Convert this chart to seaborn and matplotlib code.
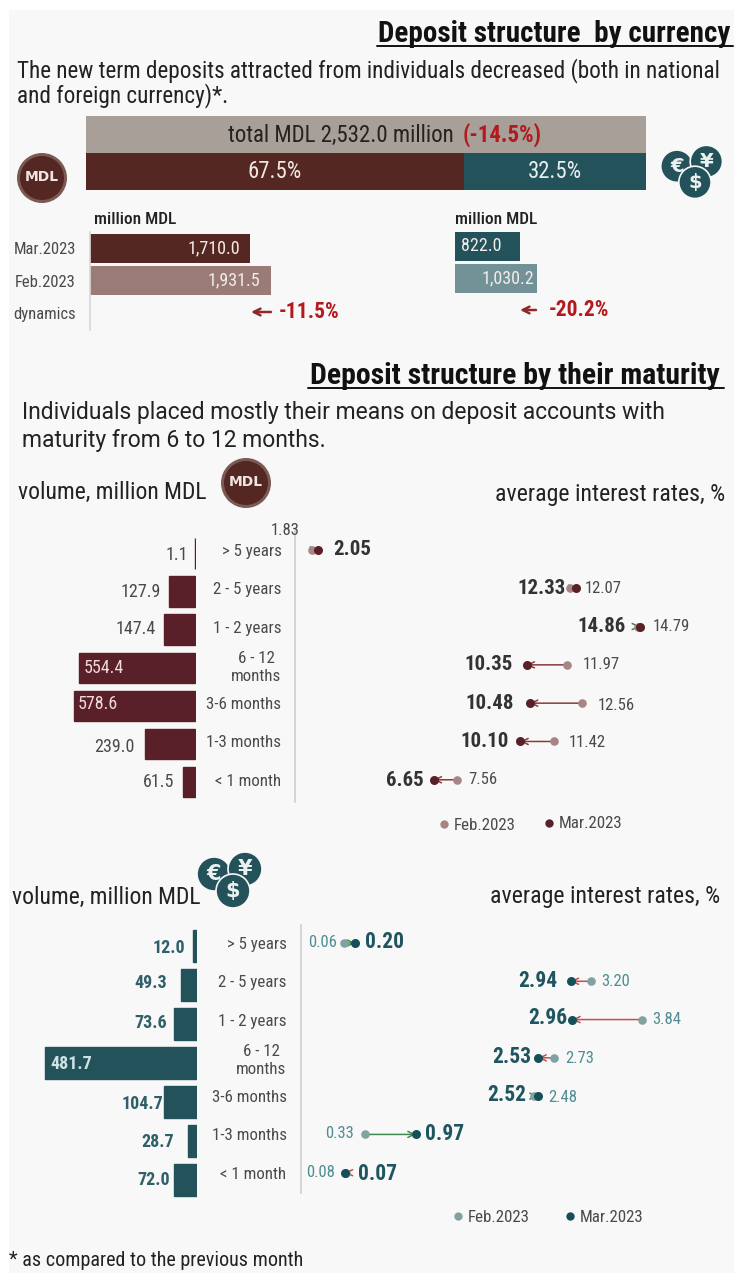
import pandas as pd
import matplotlib
matplotlib.use('Agg')
import matplotlib.pyplot as plt
from matplotlib.patches import Circle, Rectangle
import seaborn as sns

W, H = 734, 1277
PT = 0.72  # one pixel in points at dpi 100

# Data
total_label = 'total MDL 2,532.0 million'
total_change = '(-14.5%)'
share_mdl = 67.5
share_fx = 32.5

months = ['Mar.2023', 'Feb.2023', 'dynamics']
volume_mdl_top = [1710.0, 1931.5, None]
volume_fx_top = [822.0, 1030.2, None]
change_mdl = '-11.5%'
change_fx = '-20.2%'

maturities = ['> 5 years', '2 - 5 years', '1 - 2 years', '6 - 12\nmonths',
              '3-6 months', '1-3 months', '< 1 month']
volume_mdl = [1.1, 127.9, 147.4, 554.4, 578.6, 239.0, 61.5]
rate_mar_mdl = [2.05, 12.33, 14.86, 10.35, 10.48, 10.10, 6.65]
rate_feb_mdl = [1.83, 12.07, 14.79, 11.97, 12.56, 11.42, 7.56]
volume_fx = [12.0, 49.3, 73.6, 481.7, 104.7, 28.7, 72.0]
rate_mar_fx = [0.20, 2.94, 2.96, 2.53, 2.52, 0.97, 0.07]
rate_feb_fx = [0.06, 3.20, 3.84, 2.73, 2.48, 0.33, 0.08]

# Colours
BROWN = '#552722'
WINE = '#5A2029'
TEAL = '#23525A'
GREY_BAR = '#A89F98'
BROWN_LIGHT = '#9A7B76'
TEAL_LIGHT = '#729298'
RED = '#B21A1E'
TXT = '#222222'
TXT2 = '#4A4A4A'
TEAL_TXT = '#4F8C94'

sns.set_theme(style='white')
plt.rcParams['font.family'] = ['Roboto Condensed', 'DejaVu Sans']

fig = plt.figure(figsize=(W / 100, H / 100), dpi=100, facecolor='white')


def px_axes(left, top, right, bottom):
    ax = fig.add_axes([left / W, 1 - bottom / H, (right - left) / W, (bottom - top) / H])
    ax.patch.set_visible(False)
    return ax


# Page layers in pixel coordinates, one under the charts and one over them
bg = px_axes(0, 0, W, H)
bg.set_xlim(0, W)
bg.set_ylim(H, 0)
bg.axis('off')
bg.add_patch(Rectangle((9, 10), W - 9, 1263, color='#F8F8F8', lw=0))
fg = px_axes(0, 0, W, H)
fg.set_xlim(0, W)
fg.set_ylim(H, 0)
fg.axis('off')
fg.set_zorder(10)


def label(x, y, s, size, color=TXT, ha='left', weight='normal', family=None):
    return fg.text(x, y, s, fontsize=size, color=color, ha=ha, va='center', fontweight=weight, family=family)


def mdl_icon(x, y):
    bg.add_patch(Circle((x, y), 25, fc='#7A5A54', ec='none', zorder=3))
    bg.add_patch(Circle((x, y), 22, fc=BROWN, ec='none', zorder=3))
    bg.text(x, y - 1, 'MDL', fontsize=10, color='#EDE5E2', ha='center', va='center',
            fontweight='bold', family='DejaVu Sans', zorder=4)


def fx_icon(x, y, scale=1.0):
    coins = [('€', -18, -4), ('¥', 13, -9), ('$', 1, 13)]
    for i, (sign, dx, dy) in enumerate(coins):
        bg.add_patch(Circle((x + dx * scale, y + dy * scale), 17 * scale, fc=TEAL, ec='#F8F8F8',
                            lw=1.2, zorder=3 + i))
        bg.text(x + dx * scale, y + dy * scale, sign, fontsize=15 * scale, color='#EAF0F0',
                ha='center', va='center', fontweight='bold', family='DejaVu Sans', zorder=3 + i)


# Headings
label(730, 34, 'Deposit structure  by currency', 21, ha='right', weight='bold', color='#111111')
fg.plot([377, 733], [46, 46], color='#111111', lw=1.4)
label(17, 71, 'The new term deposits attracted from individuals decreased (both in national', 16.7)
label(17, 96, 'and foreign currency)*.', 16.7)
label(720, 376, 'Deposit structure by their maturity', 21.4, ha='right', weight='bold', color='#111111')
fg.plot([308, 724], [388, 388], color='#111111', lw=1.4)
label(22, 413, 'Individuals placed mostly their means on deposit accounts with', 16.5, family='Roboto')
label(22, 440, 'maturity from 6 to 12 months.', 16.5, family='Roboto')

mdl_icon(42, 178)
fx_icon(694, 170, 0.95)
mdl_icon(246, 483)
fx_icon(232, 878)

label(18, 492, 'volume, million MDL', 17)
label(725, 495, 'average interest rates, %', 17.2, ha='right')
label(12, 897, 'volume, million MDL', 17)
label(720, 896, 'average interest rates, %', 17.2, ha='right')
label(9, 1260, '* as compared to the previous month', 14.5)

# Total bar
ax = px_axes(86, 116, 646, 190)
share_df = pd.DataFrame({'row': ['total', 'split'], 'value': [share_mdl + share_fx, share_mdl + share_fx]})
sns.barplot(data=share_df, y='row', x='value', hue='row', palette=[GREY_BAR, TEAL], legend=False,
            width=1, saturation=1, linewidth=0, ax=ax)
sns.barplot(y=['split'], x=[share_mdl], color=BROWN, width=1, saturation=1, linewidth=0, ax=ax)
ax.set_xlim(0, share_mdl + share_fx)
ax.set_ylim(1.5, -0.5)
ax.axis('off')
ax.text(share_mdl / 2, 1, f'{share_mdl}%', color='#EFE7E4', fontsize=16.4, ha='center', va='center')
ax.text(share_mdl + share_fx / 2, 1, f'{share_fx}%', color='#E6EEEE', fontsize=16.4, ha='center', va='center')
label(228, 135, total_label, 16.5)
label(463, 135, total_change, 16.5, color=RED, weight='bold')


# Monthly volume bars
def month_bars(values, box, colors, xmax, text_offsets, spine):
    ax = px_axes(*box)
    df = pd.DataFrame({'month': months, 'value': values})
    sns.barplot(data=df, y='month', x='value', hue='month', palette=colors, legend=False,
                width=0.89, saturation=1, linewidth=0, ax=ax)
    ax.set_xlim(0, xmax)
    ax.set_ylim(2.5, -0.5)
    ax.set_xlabel('')
    ax.set_ylabel('')
    ax.set_xticks([])
    ax.tick_params(axis='y', length=0, pad=14 * PT, labelsize=12, labelcolor=TXT2)
    sns.despine(ax=ax, top=True, right=True, bottom=True, left=not spine)
    ax.spines['left'].set_color('#D8D8D8')
    for i, v in enumerate(values[:2]):
        dx, ha = text_offsets[i]
        ax.annotate(f'{v:,.1f}', (v, i), xytext=(dx * PT, 0), textcoords='offset points',
                    color='#F2ECEA', fontsize=13, ha=ha, va='center')
    return ax


ax = month_bars(volume_mdl_top, (90, 232, 330, 329.5), [BROWN, BROWN_LIGHT, BROWN], 240 / 0.0936,
                [(-10, 'right'), (-11, 'right')], True)
ax = month_bars(volume_fx_top, (455, 230, 640, 327.5), [TEAL, TEAL_LIGHT, TEAL], 185 / 0.0795,
                [(-59, 'left'), (-3, 'right')], False)
ax.set_yticklabels([])
label(94, 220, 'million MDL', 12.5, weight='medium')
label(455, 220, 'million MDL', 12.5, weight='medium')
for x0, x1, xt, y, s in [(271, 251, 279, 312, change_mdl), (536, 520, 549, 310, change_fx)]:
    fg.annotate('', xy=(x1, y), xytext=(x0, y),
                arrowprops=dict(arrowstyle='->', color='#8E2A2A', lw=1.8, shrinkA=0, shrinkB=0))
    label(xt, y, s, 15.5, color=RED, weight='bold')


# Maturity volume bars, growing to the left
def volume_bars(values, box, color, px_per_unit, label_dx, label_dy, label_color, inside_color, weight):
    ax = px_axes(*box)
    df = pd.DataFrame({'maturity': maturities, 'value': values})
    sns.barplot(data=df, y='maturity', x='value', color=color, saturation=1, width=0.8,
                edgecolor=color, linewidth=1, ax=ax)
    ax.set_xlim((box[2] - box[0]) / px_per_unit, 0)
    ax.axis('off')
    for i, v in enumerate(values):
        inside = label_dx[i] > 0
        ax.annotate(f'{v:.1f}', (v, i), xytext=(label_dx[i] * PT, -label_dy[i] * PT),
                    textcoords='offset points', ha='left' if inside else 'right', va='center',
                    color=inside_color if inside else label_color, fontsize=13, fontweight=weight)


volume_bars(volume_mdl, (9, 534.5, 195.5, 801), WINE, 0.2107,
            [-7, -8, -9, 5, 4, -11, -8], [1, 0, -1, 0, -2, 3, 0], TXT2, '#F0D9D9', 'normal')
volume_bars(volume_fx, (9, 926.5, 196.6, 1199.5), TEAL, 0.3137,
            [-8, -14, -7, 5, -0.5, -14, -4], [2, -2, -1, 1, 2, 1, 0], '#2F5F68', '#CFE3E5', 'bold')


# Interest rates dumbbells
def rate_panel(mar, feb, box, xlim, ylim, mar_color, feb_color, arrow_colors,
               mar_off, feb_off, mar_txt, feb_txt, tick_pad, mar_size):
    ax = px_axes(*box)
    df = pd.DataFrame({'maturity': maturities, 'mar': mar, 'feb': feb})
    for i in range(len(mar)):
        up = mar[i] > feb[i]
        ax.annotate('', xy=(mar[i], i), xytext=(feb[i], i), zorder=1,
                    arrowprops=dict(arrowstyle='->', color=arrow_colors[0 if up else 1], lw=1.1,
                                    shrinkA=0, shrinkB=0, mutation_scale=11))
    sns.stripplot(data=df, y='maturity', x='feb', color=feb_color, jitter=False, size=6.2,
                  linewidth=0, ax=ax, zorder=2)
    sns.stripplot(data=df, y='maturity', x='mar', color=mar_color, jitter=False, size=6.5,
                  linewidth=0, ax=ax, zorder=3)
    ax.set_xlim(*xlim)
    ax.set_ylim(*ylim)
    ax.set_xlabel('')
    ax.set_ylabel('')
    ax.set_xticks([])
    ax.tick_params(axis='y', length=0, pad=tick_pad * PT, labelsize=12.2, labelcolor=TXT2)
    for t in ax.get_yticklabels():
        t.set_multialignment('center')
    sns.despine(ax=ax, top=True, right=True, bottom=True)
    ax.spines['left'].set_color('#D0D0D0')
    for i in range(len(mar)):
        dx, dy = mar_off[i]
        ax.annotate(f'{mar[i]:.2f}', (mar[i], i), xytext=(dx * PT, dy * PT), textcoords='offset points',
                    ha='left' if dx > 0 else 'right', va='center', fontsize=mar_size, fontweight='bold', color=mar_txt)
        dx, dy = feb_off[i]
        ax.annotate(f'{feb[i]:.2f}', (feb[i], i), xytext=(dx * PT, dy * PT), textcoords='offset points',
                    ha='left' if dx > 0 else 'right', va='center', fontsize=12, color=feb_txt)
    return ax


rate_panel(rate_mar_mdl, rate_feb_mdl, (294.5, 530, W, 802), (1.114, 18.6), (6.58, -0.52),
           WINE, '#A88585', ('#4F7A4F', '#8A3A3A'),
           [(15, 0), (-11, 0), (-14, 0), (-14, 0), (-16.5, 0), (-11.5, 0), (-10, -1)],
           [(-12.5, 19), (15, 0), (15, 0), (15, 0), (16, -2), (15, -1), (11.5, 0)],
           '#333333', TXT2, 13, 15)
rate_panel(rate_mar_fx, rate_feb_fx, (300.5, 925, W, 1193), (-0.493, 5.015), (6.53, -0.47),
           '#15505A', '#82A2A2', ('#3F8A4F', '#C0504D'),
           [(10, 1), (-13, 0), (-5, 2), (-7, 1), (-11, 1), (9, 0), (13, -1)],
           [(-7, 0), (9.6, 0), (10.5, 0), (11, -1), (14, -1), (-11, 1), (-10.6, 0)],
           '#1F5560', TEAL_TXT, 14, 15.5)

# Legends
for x, y, col, s in [(444, 824, '#A88585', 'Feb.2023'), (549, 823, WINE, 'Mar.2023'),
                     (458, 1216, '#82A2A2', 'Feb.2023'), (570, 1216, '#15505A', 'Mar.2023')]:
    fg.plot([x], [y], 'o', color=col, ms=6, mew=0)
    label(x + 9.5, y + 1, s, 12.2, color=TXT2)

plt.savefig('out.png', dpi=100)
